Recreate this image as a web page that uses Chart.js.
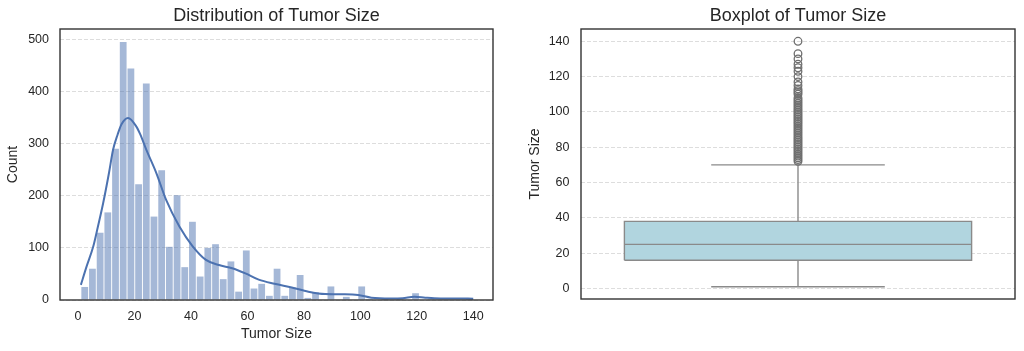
<!DOCTYPE html>
<html>
<head>
<meta charset="utf-8">
<script src="https://cdn.jsdelivr.net/npm/chart.js@4/dist/chart.umd.min.js"></script>
<style>
html,body{margin:0;padding:0;background:#fff;}
#wrap{position:relative;width:1024px;height:351px;overflow:hidden;}
.pane{position:absolute;top:0;width:512px;height:351px;}
</style>
</head>
<body>
<div id="wrap">
  <div class="pane" style="left:0"><canvas id="hist" width="512" height="351"></canvas></div>
  <div class="pane" style="left:512px"><canvas id="box" width="512" height="351"></canvas></div>
</div>
<script>
// ---------- DATA ----------
const histBinStart = 1;
const histBinEnd = 140;
const histCounts = [25,60,129,168,290,495,444,222,415,160,249,102,201,63,150,45,100,107,40,74,16,95,22,31,8,60,8,24,48,4,15,0,26,0,6,0,26,2,1,3,1,2,0,13,1,2,0,1,0,0,2];
const kdeX = [1,3,5.4,7,8.9,11,12.4,14,15.4,17.7,20.6,22,24.2,27.7,31.2,35.9,40.6,45.3,49.9,54.6,59.3,64,69.6,75.7,81.6,87.5,94.5,99.2,103.9,110.9,115,119.1,123,126.2,134.4,140];
const kdeY = [29,64,103,140,186,245,288,317,337,349,333,318,288,244,192,141,103,77,67,61,51,39,31,24,16,11.5,11,9.6,4.5,3,3.5,6,4.5,3.5,3,2.5];
const histXTicks = [0,20,40,60,80,100,120,140];
const histYTicks = [0,100,200,300,400,500];

const boxWhiskerLow = 1;
const boxQ1 = 16;
const boxMedian = 25;
const boxQ3 = 38;
const boxWhiskerHigh = 70;
const boxOutliers = [72,73,74,75,76,77,78,79,80,81,82,83,84,85,86,87,88,89,90,91,92,93,94,95,96,97,98,99,100,101,102,103,104,105,106,107,108,110,111,112,113,115,117,120,123,125,127,130,133,140];
const boxYTicks = [0,20,40,60,80,100,120,140];

// ---------- STYLE ----------
const FONT = "'Liberation Sans', Arial, sans-serif";
const TXT = '#262626';
const GRID = '#dddddd';
Chart.defaults.font.family = FONT;
Chart.defaults.color = TXT;

const framePlugin = {
  id: 'frame',
  afterDatasetsDraw(chart) {
    const a = chart.chartArea, ctx = chart.ctx;
    ctx.save();
    ctx.strokeStyle = '#333333';
    ctx.lineWidth = 1.4;
    ctx.strokeRect(a.left, a.top, a.right - a.left, a.bottom - a.top);
    ctx.restore();
  }
};

function setTicks(list) {
  return function(axis) { axis.ticks = list.map(v => ({value: v})); };
}

// ---------- HISTOGRAM ----------
const binW = (histBinEnd - histBinStart) / histCounts.length;
const histData = histCounts.map((c, i) => ({x: histBinStart + binW * (i + 0.5), y: c}));
const kdeData = kdeX.map((x, i) => ({x: x, y: kdeY[i]}));
const dataMin = histBinStart, dataMax = histBinEnd;
const yPad = (dataMax - dataMin) * 0.05;

new Chart(document.getElementById('hist'), {
  data: {
    datasets: [
      {
        type: 'line', data: kdeData, borderColor: '#4c72b0', borderWidth: 2,
        pointRadius: 0, cubicInterpolationMode: 'monotone', fill: false, order: 0
      },
      {
        type: 'bar', data: histData, backgroundColor: 'rgba(76,114,176,0.5)',
        borderWidth: 0, barPercentage: 0.88, categoryPercentage: 1, grouped: false, order: 1
      }
    ]
  },
  options: {
    responsive: false, animation: false, devicePixelRatio: 1,
    layout: {padding: {left: 0, right: 19, top: 0, bottom: 0}},
    plugins: {
      legend: {display: false}, tooltip: {enabled: false},
      title: {display: true, fullSize: false, text: 'Distribution of Tumor Size', color: TXT,
        font: {size: 18, weight: 'normal', family: FONT}, padding: {top: 5, bottom: 2.4}}
    },
    scales: {
      x: {
        type: 'linear', min: -6.4, max: 147, offset: false,
        afterBuildTicks: setTicks(histXTicks),
        afterFit(s) { s.height = 51; },
        grid: {display: false, drawTicks: false, offset: false}, border: {display: false},
        ticks: {padding: 9, font: {size: 12.5}, color: TXT, maxRotation: 0},
        title: {display: true, text: 'Tumor Size', font: {size: 14}, color: TXT, padding: {top: 0, bottom: 8.6}}
      },
      y: {
        type: 'linear', min: 0, max: 519.75,
        afterBuildTicks: setTicks(histYTicks),
        afterFit(s) { s.width = 60; },
        grid: {display: true, drawTicks: false, color: GRID, lineWidth: 1},
        border: {display: false, dash: [4, 2]},
        ticks: {padding: 11, font: {size: 12.5}, color: TXT},
        title: {display: true, text: 'Count', font: {size: 14}, color: TXT, padding: {top: 5, bottom: 0}}
      }
    }
  },
  plugins: [framePlugin]
});

// ---------- BOXPLOT ----------
const boxHalf = 0.4, capHalf = 0.2;
const boxFillData = [{x: -boxHalf, y: boxQ3}, {x: boxHalf, y: boxQ3}];
const boxOutline = [
  {x: -boxHalf, y: boxQ1}, {x: -boxHalf, y: boxQ3}, {x: boxHalf, y: boxQ3},
  {x: boxHalf, y: boxQ1}, {x: -boxHalf, y: boxQ1}
];
const medianLine = [{x: -boxHalf, y: boxMedian}, {x: boxHalf, y: boxMedian}];
const whiskers = [
  {x: 0, y: boxQ1}, {x: 0, y: boxWhiskerLow}, {x: 0.0001, y: null},
  {x: -capHalf, y: boxWhiskerLow}, {x: capHalf, y: boxWhiskerLow}, {x: 0.0002, y: null},
  {x: 0, y: boxQ3}, {x: 0, y: boxWhiskerHigh}, {x: 0.0003, y: null},
  {x: -capHalf, y: boxWhiskerHigh}, {x: capHalf, y: boxWhiskerHigh}
];
const outlierData = boxOutliers.map(v => ({x: 0, y: v}));
const LINE = '#8a8a8a';

new Chart(document.getElementById('box'), {
  data: {
    datasets: [
      {type: 'line', data: boxFillData, borderWidth: 0, pointRadius: 0,
        backgroundColor: '#b1d5df', fill: {value: boxQ1}, order: 5},
      {type: 'line', data: whiskers, borderColor: LINE, borderWidth: 1.4, pointRadius: 0,
        spanGaps: false, fill: false, order: 4},
      {type: 'line', data: boxOutline, borderColor: LINE, borderWidth: 1.4, pointRadius: 0,
        fill: false, order: 3},
      {type: 'line', data: medianLine, borderColor: LINE, borderWidth: 1.4, pointRadius: 0,
        fill: false, order: 2},
      {type: 'scatter', data: outlierData, pointStyle: 'circle', pointRadius: 3.8,
        borderColor: '#6f6f6f', borderWidth: 1.3, backgroundColor: 'rgba(0,0,0,0)', order: 1}
    ]
  },
  options: {
    responsive: false, animation: false, devicePixelRatio: 1,
    layout: {padding: {left: 0, right: 9, top: 0, bottom: 0}},
    plugins: {
      legend: {display: false}, tooltip: {enabled: false},
      title: {display: true, fullSize: false, text: 'Boxplot of Tumor Size', color: TXT,
        font: {size: 18, weight: 'normal', family: FONT}, padding: {top: 5, bottom: 2.4}}
    },
    scales: {
      x: {
        type: 'linear', min: -0.5, max: 0.5,
        afterFit(s) { s.height = 52; },
        grid: {display: false, drawTicks: false}, border: {display: false},
        ticks: {display: false}
      },
      y: {
        type: 'linear', min: dataMin - yPad, max: dataMax + yPad,
        afterBuildTicks: setTicks(boxYTicks),
        afterFit(s) { s.width = 69; },
        grid: {display: true, drawTicks: false, color: GRID, lineWidth: 1},
        border: {display: false, dash: [4, 2]},
        ticks: {padding: 11.5, font: {size: 12.5}, color: TXT},
        title: {display: true, text: 'Tumor Size', font: {size: 14}, color: TXT, padding: {top: 14.6, bottom: 0}}
      }
    }
  },
  plugins: [framePlugin]
});
</script>
</body>
</html>
